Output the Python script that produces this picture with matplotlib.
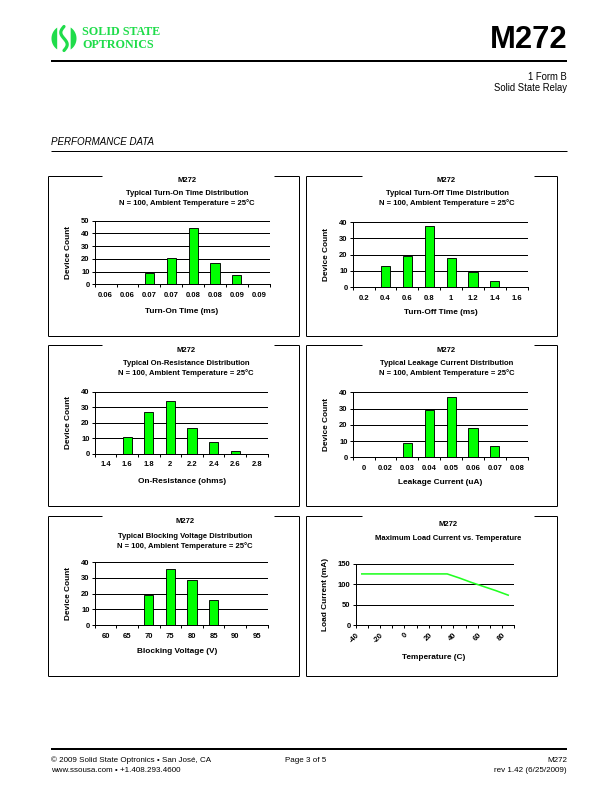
import numpy as np
import matplotlib
matplotlib.use("Agg")
import matplotlib.pyplot as plt
from matplotlib.lines import Line2D
from matplotlib.patches import Polygon
from matplotlib.transforms import ScaledTranslation

plt.rcParams['font.family'] = ['Liberation Sans', 'DejaVu Sans']

# ---------------- data ----------------
turn_on_labels = ['0.06', '0.06', '0.07', '0.07', '0.08', '0.08', '0.09', '0.09']
turn_on_counts = [0, 0, 9, 21, 44, 17, 7, 0]

turn_off_labels = ['0.2', '0.4', '0.6', '0.8', '1', '1.2', '1.4', '1.6']
turn_off_counts = [0, 13, 19, 38, 18, 9, 4, 0]

on_res_labels = ['1.4', '1.6', '1.8', '2', '2.2', '2.4', '2.6', '2.8']
on_res_counts = [0, 11, 27, 34, 17, 8, 2, 0]

leak_labels = ['0', '0.02', '0.03', '0.04', '0.05', '0.06', '0.07', '0.08']
leak_counts = [0, 0, 9, 29, 37, 18, 7, 0]

block_labels = ['60', '65', '70', '75', '80', '85', '90', '95']
block_counts = [0, 0, 19, 36, 29, 16, 0, 0]

temp_c = [-40, -30, -20, -10, 0, 10, 20, 30, 40, 50, 60, 70, 80]
load_current_ma = [125, 125, 125, 125, 125, 125, 125, 125, 115, 104, 94, 84, 73]

# ---------------- page ----------------
W, H = 612, 792
fig = plt.figure(figsize=(W / 72, H / 72), dpi=72)

def fx(x):
    return x / W

def fy(y):
    return 1 - y / H

def hline(x0, x1, y, lw=1.0):
    fig.add_artist(Line2D([fx(x0), fx(x1)], [fy(y), fy(y)], transform=fig.transFigure,
                          color='black', lw=lw, solid_capstyle='butt'))

def vline(x, y0, y1, lw=1.0):
    fig.add_artist(Line2D([fx(x), fx(x)], [fy(y0), fy(y1)], transform=fig.transFigure,
                          color='black', lw=lw, solid_capstyle='butt'))

def txt(x, y, s, **kw):
    fig.text(fx(x), fy(y), s, **kw)

GREEN_LOGO = '#1fdc4a'

# logo icon
t = np.linspace(0, 2 * np.pi, 200)
cx, cy, rx, ry = 64.0, 38.5, 12.5, 13.0
ex = cx + rx * np.cos(t)
ey = cy + ry * np.sin(t)
left = ex <= 57.5
fig.add_artist(Polygon(np.column_stack([fx(ex[left]), fy(ey[left])]), closed=True,
                       transform=fig.transFigure, color=GREEN_LOGO, lw=0))
right = ex >= 70.5
order = np.argsort(np.where(right, np.arctan2(ey - cy, ex - cx), 0)[right])
rx_pts = ex[right][order]
ry_pts = ey[right][order]
fig.add_artist(Polygon(np.column_stack([fx(rx_pts), fy(ry_pts)]), closed=True,
                       transform=fig.transFigure, color=GREEN_LOGO, lw=0))
s_t = np.linspace(0, 1, 50)
s_y = 26.5 + 24 * s_t
s_x = 64 + 3.2 * np.sin(2 * np.pi * s_t) * -1
fig.add_artist(Line2D(fx(s_x), fy(s_y), transform=fig.transFigure, color=GREEN_LOGO,
                      lw=3.2, solid_capstyle='round'))

txt(82.5, 32, 'SOLID STATE', fontsize=12, fontweight='bold', family='Liberation Serif',
    color=GREEN_LOGO, ha='left', va='center')
txt(82.5, 45, 'OPTRONICS', fontsize=12, fontweight='bold', family='Liberation Serif',
    color=GREEN_LOGO, ha='left', va='center')

# header
txt(567, 40, 'M272', fontsize=31, fontweight='bold', ha='right', va='center')
hline(51, 567, 61, lw=2.0)
txt(567, 77, '1 Form B', fontsize=9.5, ha='right', va='center')
txt(567, 88, 'Solid State Relay', fontsize=9.5, ha='right', va='center')

txt(51, 142, 'PERFORMANCE DATA', fontsize=9.8, style='italic', ha='left', va='center')
hline(51, 567, 150.5, lw=1.0)

# footer
hline(51, 567, 748.5, lw=2.0)
txt(51, 760.5, '\u00a9 2009 Solid State Optronics \u2022 San Jos\u00e9, CA', fontsize=8,
    ha='left', va='center')
txt(51, 771, 'www.ssousa.com \u2022 +1.408.293.4600', fontsize=8, ha='left', va='center')
txt(306, 760.5, 'Page 3 of 5', fontsize=8, ha='center', va='center')
txt(567, 760.5, 'M272', fontsize=8, ha='right', va='center')
txt(567, 771, 'rev 1.42 (6/25/2009)', fontsize=8, ha='right', va='center')

# ---------------- panel frames ----------------
cols = [(48, 299, 188), (306, 556.5, 447.5)]
rows = [(176, 336), (345, 506), (515.5, 676)]
GAP = 86
for (y0, y1) in rows:
    for (x0, x1, gc) in cols:
        hline(x0, gc - GAP, y0)
        hline(gc + GAP, x1, y0)
        hline(x0, x1, y1)
        vline(x0, y0, y1)
        vline(x1, y0, y1)

TFS = 7.6    # title font size
LFS = 8.3    # axis label font size
KFS = 7.6    # tick font size
BAR_GREEN = '#00ff00'


def make_axes(l, r, t, b):
    return fig.add_axes([fx(l), fy(b), (r - l) / W, (b - t) / H])


def style_axes(ax, ymax, ystep, ncat):
    ax.set_xlim(-0.5, ncat - 0.5)
    ax.set_ylim(0, ymax)
    ax.set_yticks(np.arange(0, ymax + 0.1, ystep))
    ax.set_axisbelow(True)
    ax.grid(axis='y', color='black', lw=1.0)
    ax.grid(axis='x', visible=False)
    for s in ('top', 'right'):
        ax.spines[s].set_visible(False)
    for s in ('left', 'bottom'):
        ax.spines[s].set_linewidth(1.0)
    ax.set_xticks(np.arange(-0.5, ncat, 1.0), minor=True)
    ax.tick_params(axis='x', which='minor', length=3, width=1.0, direction='out')
    ax.tick_params(axis='x', which='major', length=0, pad=7.5, labelsize=KFS)
    ax.tick_params(axis='y', which='major', length=3, width=1.0, pad=2, labelsize=KFS)
    for lab in ax.get_yticklabels() + ax.get_xticklabels():
        lab.set_fontweight('bold')


def bar_panel(box, labels, counts, ymax, titles, xlabel, ylabel_x, xlabel_y, xlabel_x):
    l, r, t, b = box
    ax = make_axes(l, r, t, b)
    idx = np.arange(len(labels))
    ax.bar(idx, counts, width=0.42, color=BAR_GREEN, edgecolor='black', lw=0.9)
    ax.set_xticks(idx)
    ax.set_xticklabels(labels)
    style_axes(ax, ymax, 10, len(labels))
    for (tx, ty, s) in titles:
        txt(tx, ty, s, fontsize=TFS, fontweight='bold', ha='center', va='center')
    txt(xlabel_x, xlabel_y, xlabel, fontsize=LFS, fontweight='bold', ha='center', va='center')
    txt(ylabel_x, (t + b) / 2, 'Device Count', fontsize=LFS, fontweight='bold', rotation=90,
        ha='center', va='center')
    return ax

SUB = 'N = 100, Ambient Temperature = 25\u00b0C'

bar_panel((94.7, 269.7, 220.7, 284.3), turn_on_labels, turn_on_counts, 50,
          [(187, 181, 'M272'), (187, 193.3, 'Typical Turn-On Time Distribution'), (187, 203.3, SUB)],
          'Turn-On Time (ms)', 68.7, 311, 182)

bar_panel((352.7, 527.7, 222.3, 287), turn_off_labels, turn_off_counts, 40,
          [(446, 181, 'M272'), (447, 193.3, 'Typical Turn-Off Time Distribution'), (447, 203.3, SUB)],
          'Turn-Off Time (ms)', 326.7, 313, 441)

bar_panel((94.7, 267.7, 391.7, 454), on_res_labels, on_res_counts, 40,
          [(186, 351, 'M272'), (186, 363.3, 'Typical On-Resistance Distribution'), (186, 373.3, SUB)],
          'On-Resistance (ohms)', 68.7, 481, 182)

bar_panel((352.7, 527.7, 392.3, 457.3), leak_labels, leak_counts, 40,
          [(446, 351, 'M272'), (447, 363.3, 'Typical Leakage Current Distribution'), (447, 373.3, SUB)],
          'Leakage Current (uA)', 326.7, 483, 440)

bar_panel((94.7, 267.7, 562.3, 625), block_labels, block_counts, 40,
          [(185, 521.7, 'M272'), (185, 536, 'Typical Blocking Voltage Distribution'), (185, 545.7, SUB)],
          'Blocking Voltage (V)', 68.7, 651.7, 177)

# ---------------- load current vs temperature ----------------
l, r, t, b = 355.7, 514.3, 563.7, 625
ax = make_axes(l, r, t, b)
tidx = np.arange(len(temp_c))
ax.plot(tidx, load_current_ma, color='#22ff22', lw=1.6)
ax.set_xticks(tidx[::2])
ax.set_xticklabels([str(v) for v in temp_c[::2]])
style_axes(ax, 150, 50, len(temp_c))
ax.tick_params(axis='x', which='major', pad=9)
for lab in ax.get_xticklabels():
    lab.set_rotation(45)
    lab.set_ha('right')
    lab.set_va('center')
    lab.set_rotation_mode('anchor')
    lab.set_transform(lab.get_transform() + ScaledTranslation(-3.5 / 72, 0, fig.dpi_scale_trans))
txt(447.7, 524, 'M272', fontsize=TFS, fontweight='bold', ha='center', va='center')
txt(447.7, 539, 'Maximum Load Current vs. Temperature', fontsize=TFS, fontweight='bold',
    ha='center', va='center')
txt(433.3, 657.7, 'Temperature (C)', fontsize=LFS, fontweight='bold', ha='center', va='center')
txt(325.7, (t + b) / 2, 'Load Current (mA)', fontsize=LFS, fontweight='bold', rotation=90,
    ha='center', va='center')

fig.savefig('out.png', dpi=72)
